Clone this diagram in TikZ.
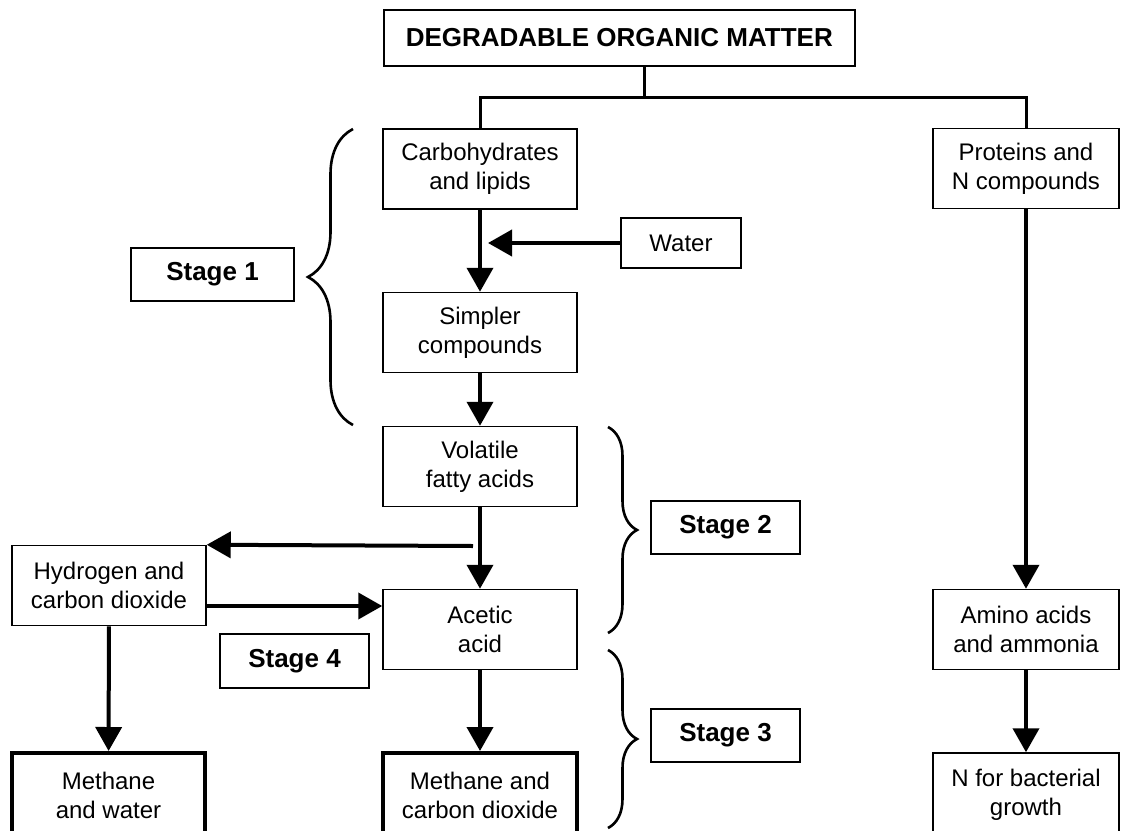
\documentclass[tikz,border=0pt]{standalone}
\usepackage{fontspec}
\setmainfont{Liberation Sans}
\usetikzlibrary{arrows.meta,decorations.pathreplacing}

\begin{document}
\begin{tikzpicture}[x=0.5pt,y=-0.5pt,
    box/.style={draw,line width=0.75pt,align=center,inner sep=0pt,
                minimum width=97pt,minimum height=40pt,
                font=\fontsize{12}{14.5}\selectfont},
    endbox/.style={box,line width=2pt,minimum height=42pt},
    stagebox/.style={draw,line width=0.75pt,inner sep=0pt,
                minimum width=74.5pt,minimum height=26.5pt,
                font=\fontsize{13}{15}\selectfont\bfseries},
    arr/.style={-{Triangle[length=12pt,width=13pt]},line width=2pt},
    link/.style={line width=1.5pt},
    curly/.style={decorate,decoration={brace,amplitude=#1},line width=1.3pt},
    curly/.default=14.5pt]
  \useasboundingbox (0,0) rectangle (1121,831);
  \clip (0,0) rectangle (1121,831);

  % boxes
  \node[stagebox,anchor=west,inner xsep=11pt,minimum height=28pt] (dom) at (383,38)
       {DEGRADABLE ORGANIC MATTER};
  \node[box] (carb) at (480,169) {Carbohydrates\\and lipids};
  \node[box,minimum width=60pt,minimum height=25pt] (water) at (681,243) {Water};
  \node[box] (simp) at (480,332.5) {Simpler\\compounds};
  \node[box] (vfa)  at (480,466.5) {Volatile\\fatty acids};
  \node[box] (acet) at (480,629.5) {Acetic\\acid};
  \node[endbox] (mco2) at (480,795) {Methane and\\carbon dioxide};
  \node[box] (hco2) at (109,585.5) {Hydrogen and\\carbon dioxide};
  \node[endbox,minimum width=96.5pt] (mh2o) at (108.5,795) {Methane\\and water};
  \node[box,minimum width=93pt] (prot)  at (1026,168.5) {Proteins and\\N compounds};
  \node[box,minimum width=93pt] (amino) at (1026,629.5) {Amino acids\\and ammonia};
  \node[box,minimum width=93pt,minimum height=42pt] (nbac) at (1026,795)
       {N for bacterial\\growth};

  % stage labels
  \node[stagebox,minimum width=81.5pt] (st1) at (212.5,274.5) {Stage 1};
  \node[stagebox] (st2) at (725.5,527.5) {Stage 2};
  \node[stagebox] (st3) at (725.5,735.5) {Stage 3};
  \node[stagebox,minimum height=27pt] (st4) at (294.5,661) {Stage 4};

  % split of the matter
  \coordinate (fork) at (644,97);
  \draw[link] (dom.south -| fork) -- (fork);
  \draw[link] (carb.north) |- (fork) -| (prot.north);

  % flows
  \draw[arr] (carb) -- (simp);
  \draw[arr] (water.west) -- (water.west -| 488,0);
  \draw[arr] (simp) -- (vfa);
  \draw[arr] (vfa) -- (acet);
  \coordinate (split) at (473,546);
  \draw[arr] (split) -- (hco2.north east);
  \draw[arr] (hco2.east |- 0,606) -- (acet.west |- 0,606);
  \draw[arr] (acet) -- (mco2);
  \draw[arr] (hco2) -- (mh2o);
  \draw[arr] (prot) -- (amino);
  \draw[arr] (amino) -- (nbac);

  % braces
  \draw[curly=22.5pt] (353,425) -- (353,129);
  \draw[curly] (608,427) -- (608,633);
  \draw[curly] (608,650) -- (608,828);
\end{tikzpicture}
\end{document}
